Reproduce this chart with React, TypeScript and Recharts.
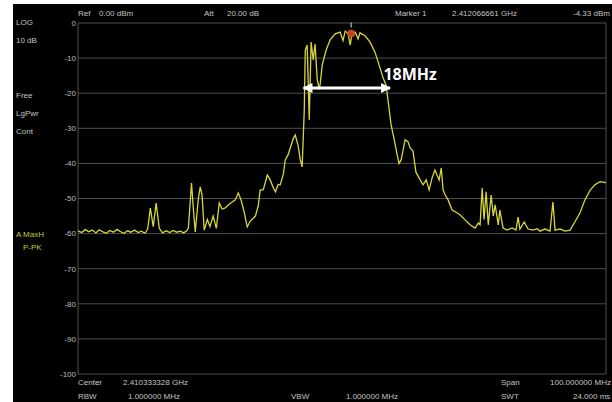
import React from 'react';
import { LineChart, Line, XAxis, YAxis, CartesianGrid, ReferenceLine, ReferenceDot } from 'recharts';

// frequency offset from center (MHz) and trace level (dBm)
const freqMHz = [
  -50, -49.3, -48.6, -48, -47.3, -46.6, -46, -45.3, -44.6, -44, -43.3, -42.6, -42, -41.3, -40.6, -40,
  -39.3, -38.6, -38, -37.3, -36.8, -36.3, -35.75, -35.2, -34.6, -34, -33.3, -32.6, -32, -31.3, -30.6,
  -30, -29.4, -29.1, -28.5, -28.2, -27.8, -27.2, -26.85, -26.5, -26.1, -25.5, -25, -24.4, -23.8, -23.25,
  -22.7, -22.1, -21.5, -20.8, -20.2, -19.65, -19.1, -18.5, -17.95, -17.4, -16.4, -15.85, -15.5, -14.9,
  -14.15, -13.6, -13, -12.6, -12.1, -11.7, -11.1, -10.75, -10.2, -9.8, -9.25, -8.85, -8.3, -7.9, -7.55,
  -7.15, -6.95, -6.6, -6.2, -5.85, -5.45, -5.1, -4.7, -4.3, -4.1, -3.75, -3, -2.25, -1.3, -0.35, 0.2,
  0.6, 1.15, 1.55, 1.9, 2.5, 3.05, 3.4, 4.4, 5.3, 6.25, 7.2, 7.8, 8.35, 8.7, 9.3, 9.9, 10.45, 10.8,
  11.2, 11.95, 12.5, 12.9, 13.45, 14, 14.8, 15.35, 15.95, 16.5, 17.05, 17.6, 18, 18.4, 18.8, 19.15,
  19.55, 20.1, 20.85, 21.6, 22.4, 23.3, 24.25, 25.2, 25.8, 26.15, 26.55, 26.9, 27.3, 27.7, 28.25,
  28.65, 29, 29.6, 29.9, 30.5, 31.25, 32.2, 32.95, 33.35, 33.7, 34.5, 35.25, 36.2, 37, 37.5, 38.45,
  39.4, 39.95, 40.35, 41.3, 42.25, 43.2, 44.1, 45.1, 46, 47, 47.9, 48.9, 50,
];
const levelDbm = [
  -59.2, -59.7, -58.8, -59.5, -59, -59.8, -58.9, -59.5, -59.9, -59.1, -59.6, -58.8, -59.4, -59.9, -59.2, -59.6,
  -59, -59.7, -59.3, -59.9, -58.7, -52.7, -58, -51.3, -58.5, -59.8, -59.2, -59.7, -59.1, -59.6, -59.3,
  -59.8, -59.2, -58.5, -45.6, -52, -59.5, -50, -46.7, -49, -59, -56, -58, -55, -58.5, -51.3,
  -53, -52.7, -51.8, -51, -50.4, -48.4, -50.5, -54, -58.1, -56.5, -55, -52, -47.6, -47.5,
  -43.3, -44.7, -47, -48.1, -46, -46.1, -43, -39, -37.5, -35.6, -33, -31.9, -35, -39, -41,
  -25, -7.7, -6.3, -27.6, -5.4, -10.5, -6, -16, -19, -17, -12, -7.7, -4.8, -3.1, -2.6, -5,
  -2.3, -3, -6.3, -3, -2.6, -4.5, -2.8, -3.7, -5.4, -8.3, -12.8, -15.7, -17.7, -21.9, -29, -33.3, -37.6, -40,
  -39, -33.3, -33.8, -35.6, -36.5, -42.5, -44.7, -46.1, -44.7, -47.6, -44.2, -41.9, -43.3, -44.7, -41.3, -47.6,
  -49, -50.4, -53.3, -53.9, -54.7, -56.1, -57.5, -58.4, -57, -57.5, -47, -56, -48.1, -57.5, -49,
  -55, -51.8, -57.5, -53.3, -58.4, -59, -58.4, -59, -55.3, -58.7, -56.7, -58.7, -59, -58.6, -59.3, -58.7,
  -59.3, -51, -59, -58.7, -59.3, -59, -56.7, -54, -50.4, -47.6, -46.1, -45.2, -45.5,
];
const traceData = freqMHz.map((f, i) => ({ f, level: levelDbm[i] }));

const xTicks = [-50, -40, -30, -20, -10, 0, 10, 20, 30, 40, 50];
const yTicks = [0, -10, -20, -30, -40, -50, -60, -70, -80, -90, -100];

const markerFreq = 1.733;
const markerLevel = -3;
const bwStart = -7.3;
const bwEnd = 9.1;
const bwLevel = -18.5;
const bwLabel = '18MHz';

const txt: React.CSSProperties = {
  position: 'absolute',
  fontFamily: '"Liberation Sans", Arial, sans-serif',
  fontSize: 8,
  color: '#c4c4c4',
  lineHeight: '10px',
  whiteSpace: 'nowrap',
};

const T = ({ x, y, c, children }: { x: number; y: number; c?: string; children: React.ReactNode }) => (
  <div style={{ ...txt, left: x, top: y - 5, color: c || txt.color }}>{children}</div>
);

export default function App() {
  return (
    <div style={{ position: 'absolute', left: 0, top: 0, width: 612, height: 402, background: '#fff', overflow: 'hidden' }}>
      <div style={{ position: 'absolute', left: 13, top: 4, right: 0, bottom: 0, background: '#000' }} />

      <T x={78} y={14}>Ref</T>
      <T x={99} y={14}>0.00 dBm</T>
      <T x={204} y={14}>Att</T>
      <T x={227} y={14}>20.00 dB</T>
      <T x={395} y={14}>Marker 1</T>
      <T x={452} y={14}>2.412066661 GHz</T>
      <T x={573} y={14}>-4.33 dBm</T>

      <T x={16} y={23}>LOG</T>
      <T x={16} y={41}>10 dB</T>
      <T x={16} y={96}>Free</T>
      <T x={16} y={114}>LgPwr</T>
      <T x={16} y={132}>Cont</T>
      <T x={16} y={235} c="#c8c83a">A MaxH</T>
      <T x={23} y={248} c="#c8c83a">P-PK</T>

      <T x={78} y={383}>Center</T>
      <T x={123} y={383}>2.410333328 GHz</T>
      <T x={78} y={397}>RBW</T>
      <T x={128} y={397}>1.000000 MHz</T>
      <T x={291} y={397}>VBW</T>
      <T x={346} y={397}>1.000000 MHz</T>
      <T x={501} y={383}>Span</T>
      <T x={550} y={383}>100.000000 MHz</T>
      <T x={501} y={397}>SWT</T>
      <T x={573} y={397}>24.000 ms</T>

      <div style={{ position: 'absolute', left: 0, top: 0 }}>
        <LineChart width={612} height={402} data={traceData} margin={{ top: 23, right: 6, left: 14, bottom: 28 }}>
          <CartesianGrid stroke="#4e4e4e" strokeWidth={1} />
          <XAxis
            dataKey="f"
            type="number"
            domain={[-50, 50]}
            ticks={xTicks}
            height={0}
            tick={false}
            axisLine={false}
            tickLine={false}
          />
          <YAxis
            type="number"
            domain={[-100, 0]}
            ticks={yTicks}
            width={64}
            axisLine={false}
            tickLine={false}
            tickSize={0}
            tickMargin={2}
            tick={{ fill: '#bdbdbd', fontSize: 8, fontFamily: '"Liberation Sans", Arial, sans-serif' }}
          />
          <Line
            type="linear"
            dataKey="level"
            stroke="#d6d63c"
            strokeWidth={1.3}
            dot={false}
            isAnimationActive={false}
          />
          <ReferenceLine
            segment={[{ x: bwStart, y: bwLevel }, { x: bwEnd, y: bwLevel }]}
            stroke="#ffffff"
            strokeWidth={3}
          />
          <ReferenceDot
            x={bwStart}
            y={bwLevel}
            shape={(p: any) => (
              <polygon points={`${p.cx - 1},${p.cy} ${p.cx + 9},${p.cy - 5} ${p.cx + 9},${p.cy + 5}`} fill="#fff" />
            )}
          />
          <ReferenceDot
            x={bwEnd}
            y={bwLevel}
            shape={(p: any) => (
              <polygon points={`${p.cx + 1},${p.cy} ${p.cx - 9},${p.cy - 5} ${p.cx - 9},${p.cy + 5}`} fill="#fff" />
            )}
          />
          <ReferenceDot
            x={12.9}
            y={-14.5}
            shape={(p: any) => (
              <text
                x={p.cx}
                y={p.cy}
                textAnchor="middle"
                dominantBaseline="central"
                fill="#fff"
                fontWeight="bold"
                fontSize={16}
                fontFamily='"Open Sans", "DejaVu Sans", sans-serif'
              >
                {bwLabel}
              </text>
            )}
          />
          <ReferenceDot
            x={markerFreq}
            y={markerLevel}
            shape={(p: any) => (
              <g>
                <line x1={p.cx} y1={p.cy - 11} x2={p.cx} y2={p.cy - 6} stroke="#ddd" strokeWidth={1} />
                <circle cx={p.cx} cy={p.cy} r={3.5} fill="#c8401c" stroke="#e05a20" strokeWidth={0.8} />
              </g>
            )}
          />
        </LineChart>
      </div>
    </div>
  );
}
